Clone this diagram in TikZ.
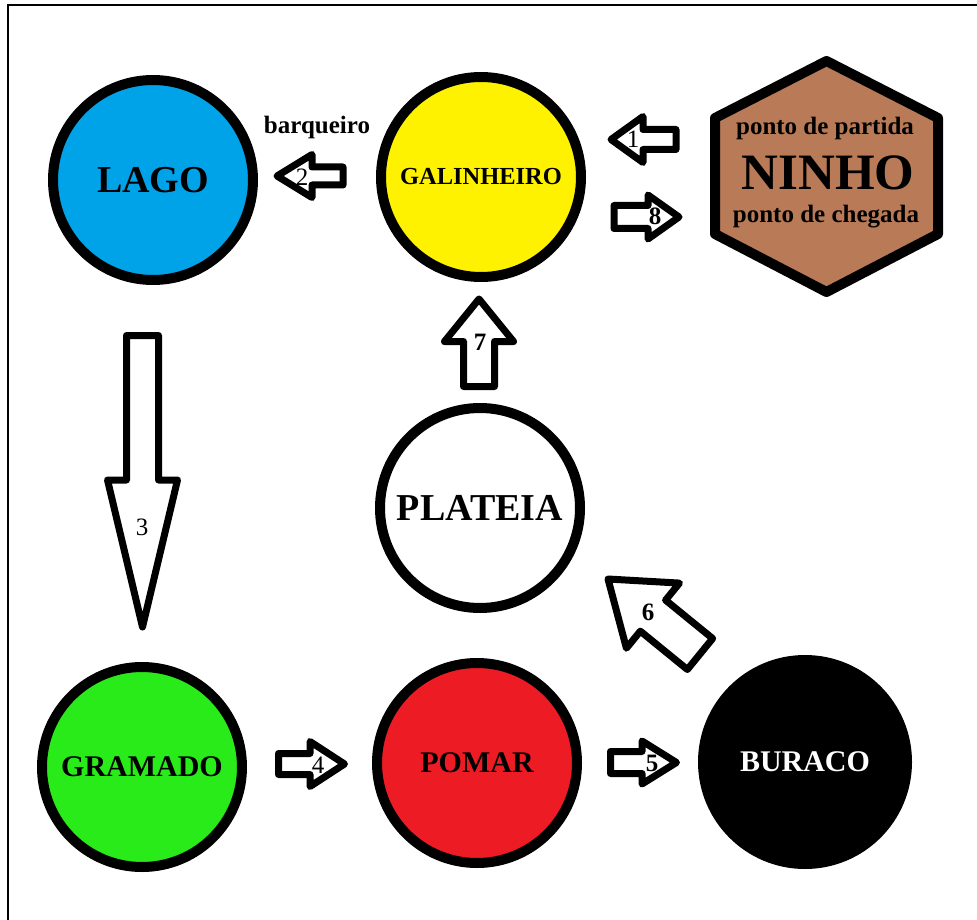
\documentclass[tikz,border=0pt]{standalone}
\usepackage{fontspec}
\setmainfont{Liberation Serif}
\usetikzlibrary{calc}

\definecolor{lagoblue}{RGB}{0,162,232}
\definecolor{galyellow}{RGB}{255,242,0}
\definecolor{gramgreen}{RGB}{42,235,26}
\definecolor{pomarred}{RGB}{237,28,36}
\definecolor{ninhobrown}{RGB}{185,122,87}

\tikzset{
  shaft wd/.store in=\shaftw, head wd/.store in=\headw, head len/.store in=\headl,
  shaft wd=10pt, head wd=22pt, head len=34pt,
  blockarrow/.style={draw=black, fill=white, line width=7pt, line join=round,
    to path={
      ($(\tikztostart)!\shaftw!90:(\tikztotarget)$)
      -- ($($(\tikztotarget)!\headl!(\tikztostart)$)!\shaftw!90:(\tikztotarget)$)
      -- ($($(\tikztotarget)!\headl!(\tikztostart)$)!\headw!90:(\tikztotarget)$)
      -- (\tikztotarget)
      -- ($($(\tikztotarget)!\headl!(\tikztostart)$)!\headw!-90:(\tikztotarget)$)
      -- ($($(\tikztotarget)!\headl!(\tikztostart)$)!\shaftw!-90:(\tikztotarget)$)
      -- ($(\tikztostart)!\shaftw!-90:(\tikztotarget)$)
      -- cycle}},
}

\begin{document}
\begin{tikzpicture}[x=1pt,y=-1pt,
  every node/.style={inner sep=0pt},
  place/.style={circle, draw=black, line width=10pt, minimum size=200pt},
  big/.style={font=\fontsize{38}{40}\selectfont\bfseries},
  mid/.style={font=\fontsize{30}{32}\selectfont\bfseries},
  small/.style={font=\fontsize{25}{27}\selectfont\bfseries},
  num/.style={font=\fontsize{25}{25}\selectfont},
  bnum/.style={font=\fontsize{25}{25}\selectfont\bfseries}]

\useasboundingbox (0,0) rectangle (977,920);

% Frame
\draw [line width=1.8pt] (8,920) -- (8,5) -- (977,5);

% Places
\node [place, fill=lagoblue, big] (lago) at (153,180) {LAGO};
\node [place, fill=galyellow, font=\fontsize{24.5}{26}\selectfont\bfseries] (galinheiro) at (481,177) {GALINHEIRO};
\node [place, fill=white, big] (plateia) at (480,508) {PLATEIA};
\node [place, fill=gramgreen, mid] (gramado) at (142,767) {GRAMADO};
\node [place, fill=pomarred, mid] (pomar) at (477,763) {POMAR};
\node [place, fill=black, minimum size=204pt, mid, text=white] (buraco) at (805,762) {BURACO};

% Ninho (hexagon)
\filldraw [fill=ninhobrown, line width=10pt, line join=round]
  (826.5,61) -- (938,118) -- (938,234) -- (826.5,292) -- (715,234) -- (715,118) -- cycle;
\node [font=\fontsize{51}{52}\selectfont\bfseries] (ninho) at (828,173) {NINHO};
\node [small] (partida) at (825,128) {ponto de partida};
\node [small] (chegada) at (826,217) {ponto de chegada};

% Arrow ends
\coordinate (a1 tail) at (676,139.5); \coordinate (a1 tip) at (611,139.5);
\coordinate (a2 tail) at (343,176);   \coordinate (a2 tip) at (277,176);
\coordinate (a3 tail) at (142.5,335.5); \coordinate (a3 tip) at (142.5,627);
\coordinate (a4 tail) at (278.5,764); \coordinate (a4 tip) at (344.5,764);
\coordinate (a5 tail) at (610.5,762.5); \coordinate (a5 tip) at (676.5,762.5);
\coordinate (a6 tail) at (700,654);   \coordinate (a6 tip) at (608,579);
\coordinate (a7 tail) at (479,386.5); \coordinate (a7 tip) at (479,299);
\coordinate (a8 tail) at (614,217);   \coordinate (a8 tip) at (679,217);

% Block arrows
\draw [blockarrow, shaft wd=10pt, head wd=23pt, head len=32pt] (a1 tail) to (a1 tip);
\draw [blockarrow, shaft wd=9pt, head wd=21.5pt, head len=35pt] (a2 tail) to (a2 tip);
\draw [blockarrow, shaft wd=16pt, head wd=35pt, head len=147pt] (a3 tail) to (a3 tip);
\draw [blockarrow, shaft wd=10.5pt, head wd=22.5pt, head len=34.5pt] (a4 tail) to (a4 tip);
\draw [blockarrow, shaft wd=11pt, head wd=21.5pt, head len=34.5pt] (a5 tail) to (a5 tip);
\draw [blockarrow, shaft wd=20pt, head wd=42pt, head len=58pt] (a6 tail) to (a6 tip);
\draw [blockarrow, shaft wd=15.5pt, head wd=34.5pt, head len=42.5pt] (a7 tail) to (a7 tip);
\draw [blockarrow, shaft wd=11.5pt, head wd=22pt, head len=31pt] (a8 tail) to (a8 tip);

% Step numbers
\node [num] (n1) at (633,139) {1};
\node [num] (n2) at (302,177) {2};
\node [num] (n3) at (142,527) {3};
\node [num] (n4) at (318,765) {4};
\node [bnum] (n5) at (652,763) {5};
\node [bnum] (n6) at (648,612) {6};
\node [bnum] (n7) at (480,342) {7};
\node [bnum] (n8) at (655,216) {8};

% Boat label
\node [small] (barqueiro) at (317,127) {barqueiro};

\end{tikzpicture}
\end{document}
